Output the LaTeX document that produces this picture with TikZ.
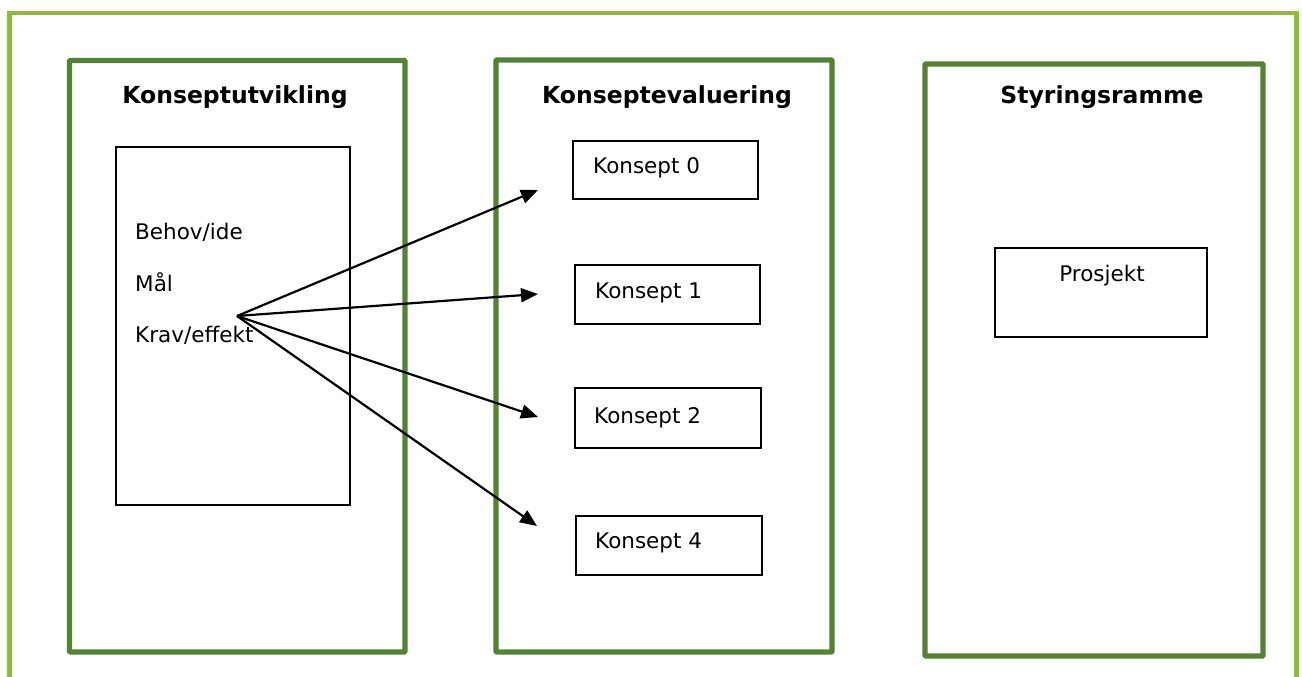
\documentclass[tikz,border=0pt]{standalone}
\usepackage{fontspec}
\setmainfont{DejaVu Sans}
\usetikzlibrary{arrows.meta}
\definecolor{framegreen}{HTML}{8DBB3D}
\definecolor{panelgreen}{HTML}{548235}
\begin{document}
\begin{tikzpicture}[x=1pt,y=-1pt,
  outerframe/.style={draw=framegreen,line width=4.5pt},
  panel/.style={draw=panelgreen,line width=5.2pt,outer sep=0pt,inner sep=0pt,anchor=north west,rounded corners=0.8pt},
  thinbox/.style={draw=black,line width=2pt,outer sep=0pt,inner sep=0pt,anchor=north west},
  title/.style={font=\fontsize{23.5}{28}\selectfont\bfseries,inner sep=0pt,anchor=base},
  body/.style={font=\fontsize{21.5}{26}\selectfont,inner sep=0pt,anchor=base west},
  arrowline/.style={draw=black,line width=2.2pt,-{Triangle[length=17pt,width=14pt]}}
]
\useasboundingbox (0,0) rectangle (1302,677);
\begin{scope}
\clip (0,0) rectangle (1302,677);
% open outer frame (left, top, right)
\draw[outerframe] (9.5,690) -- (9.5,13) -- (1296.5,13) -- (1296.5,690);
\end{scope}

% three panels
\node[panel,minimum width=335.5pt,minimum height=591.5pt] (dev) at (69.5,60.5) {};
\node[panel,minimum width=336pt,minimum height=592pt] (eval) at (496,60) {};
\node[panel,minimum width=338pt,minimum height=592pt] (gov) at (925,64) {};

\node[title] (devtitle) at (235,103) {Konseptutvikling};
\node[title] (evaltitle) at (667,103) {Konseptevaluering};
\node[title] (govtitle) at (1102,103) {Styringsramme};

% needs box
\node[thinbox,minimum width=234pt,minimum height=358pt] (needs) at (116,147) {};
\node[body] (behov) at (135,239) {Behov/ide};
\node[body] (maal) at (135,291) {Mål};
\node[body] (krav) at (135,342) {Krav/effekt};

% concept boxes
\node[thinbox,minimum width=185pt,minimum height=58pt] (k0) at (573,141) {};
\node[thinbox,minimum width=185pt,minimum height=59pt] (k1) at (575,265) {};
\node[thinbox,minimum width=186pt,minimum height=60pt] (k2) at (575,388) {};
\node[thinbox,minimum width=186pt,minimum height=59pt] (k4) at (576,516) {};
\node[body] (k0t) at (593,173) {Konsept 0};
\node[body] (k1t) at (595,298) {Konsept 1};
\node[body] (k2t) at (594,423) {Konsept 2};
\node[body] (k4t) at (595,548) {Konsept 4};

% project box
\node[thinbox,minimum width=212pt,minimum height=89pt] (proj) at (995,248) {};
\node[body,anchor=base] (projt) at (1102,281) {Prosjekt};

% fan of arrows from the requirements
\coordinate (src) at (237,316);
\coordinate (tip0) at (538,190);
\coordinate (tip1) at (538,294);
\coordinate (tip2) at (538,417);
\coordinate (tip4) at (537,526);
\draw[arrowline] (src) -- (tip0);
\draw[arrowline] (src) -- (tip1);
\draw[arrowline] (src) -- (tip2);
\draw[arrowline] (src) -- (tip4);
\end{tikzpicture}
\end{document}
